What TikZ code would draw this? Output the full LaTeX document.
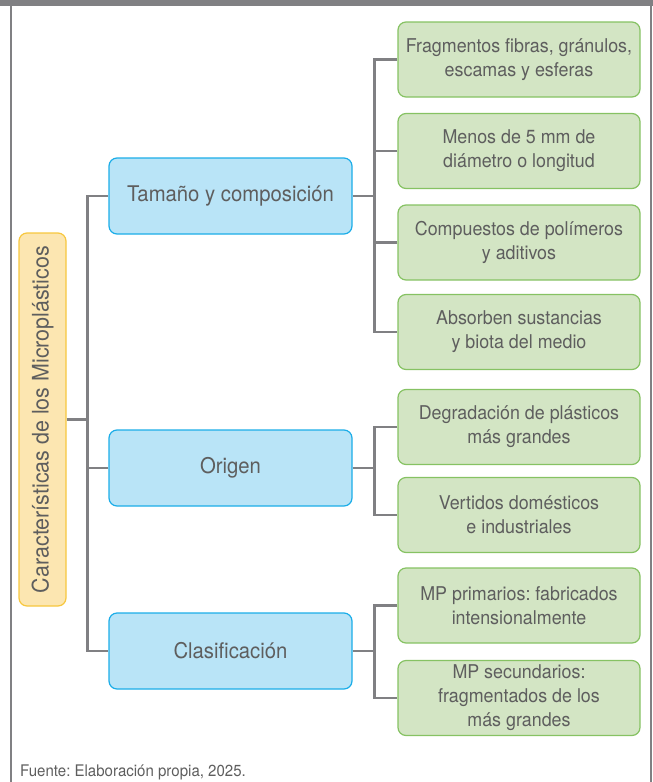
\documentclass[tikz,border=0pt]{standalone}
\usepackage{fontspec}
\setmainfont[FakeStretch=0.94]{TeX Gyre Heros}
\usepackage{tikz}
\usepackage{xcolor}
\definecolor{frame-gray}{HTML}{808083}
\definecolor{text-gray}{HTML}{5E5E5E}
\definecolor{root-fill}{HTML}{FCE6B1}
\definecolor{root-edge}{HTML}{F7C73E}
\definecolor{topic-fill}{HTML}{B9E4F7}
\definecolor{topic-edge}{HTML}{1BADE8}
\definecolor{leaf-fill}{HTML}{D3E5C4}
\definecolor{leaf-edge}{HTML}{86C263}
\frenchspacing
\tikzset{
    root-box/.style = {draw=root-edge, fill=root-fill, line width=1.2pt, rectangle, rounded corners=8pt, minimum width=373pt, minimum height=47pt, rotate=90, text=text-gray, font=\fontsize{22.8}{27}\selectfont},
    topic-box/.style = {draw=topic-edge, fill=topic-fill, line width=1.2pt, rectangle, rounded corners=8pt, minimum width=243pt, minimum height=76pt, text=text-gray, font=\fontsize{21.6}{26}\selectfont},
    leaf-box/.style = {draw=leaf-edge, fill=leaf-fill, line width=1.2pt, rectangle, rounded corners=8pt, minimum width=242pt, minimum height=75pt, align=center, text=text-gray, font=\fontsize{19}{24}\selectfont},
    link-line/.style = {draw=frame-gray, line width=2.6pt},
}

\begin{document}
\begin{tikzpicture}[x=1pt, y=-1pt]
\useasboundingbox (0,0) rectangle (653,782);
% marco
\fill[frame-gray] (0,0) rectangle (653,6);
\draw[frame-gray, line width=2.6pt] (11,6) -- (11,782);
\draw[frame-gray, line width=2.6pt] (651,6) -- (651,782);

\node[root-box] (root) at (42.5,419.5) {Características de los Microplásticos};

\node[topic-box] (tam) at (230.5,196) {Tamaño y composición};
\node[topic-box] (ori) at (230.5,468) {Origen};
\node[topic-box] (cla) at (230.5,651) {Clasificación};

\node[leaf-box] (frag) at (519,59.5) {Fragmentos fibras, gránulos,\\escamas y esferas};
\node[leaf-box] (menos) at (519,151) {Menos de 5 mm de\\diámetro o longitud};
\node[leaf-box] (comp) at (519,242.5) {Compuestos de polímeros\\y aditivos};
\node[leaf-box] (abs) at (519,332) {Absorben sustancias\\y biota del medio};
\node[leaf-box] (degr) at (519,427) {Degradación de plásticos\\más grandes};
\node[leaf-box] (vert) at (519,515) {Vertidos domésticos\\e industriales};
\node[leaf-box] (prim) at (519,605.5) {MP primarios: fabricados\\intensionalmente};
\node[leaf-box] (secu) at (519,698) {MP secundarios:\\fragmentados de los\\más grandes};

% tronco
\draw[link-line] (root.south) -- ++(22,0);
\draw[link-line] (tam.west) -- ++(-21,0) |- (cla.west);
\draw[link-line] (ori.west) -- ++(-21,0);

% ramas
\draw[link-line] (tam.east) -- ++(23,0);
\draw[link-line] (frag.west) -- ++(-23,0) |- (abs.west);
\draw[link-line] (menos.west) -- ++(-23,0);
\draw[link-line] (comp.west) -- ++(-23,0);

\draw[link-line] (ori.east) -- ++(23,0);
\draw[link-line] (degr.west) -- ++(-23,0) |- (vert.west);

\draw[link-line] (cla.east) -- ++(23,0);
\draw[link-line] (prim.west) -- ++(-23,0) |- (secu.west);

\node[anchor=base west, text=text-gray, font=\fontsize{16}{19}\selectfont, inner sep=0pt] (fuente) at (20,776) {Fuente: Elaboración propia, 2025.};
\end{tikzpicture}
\end{document}
